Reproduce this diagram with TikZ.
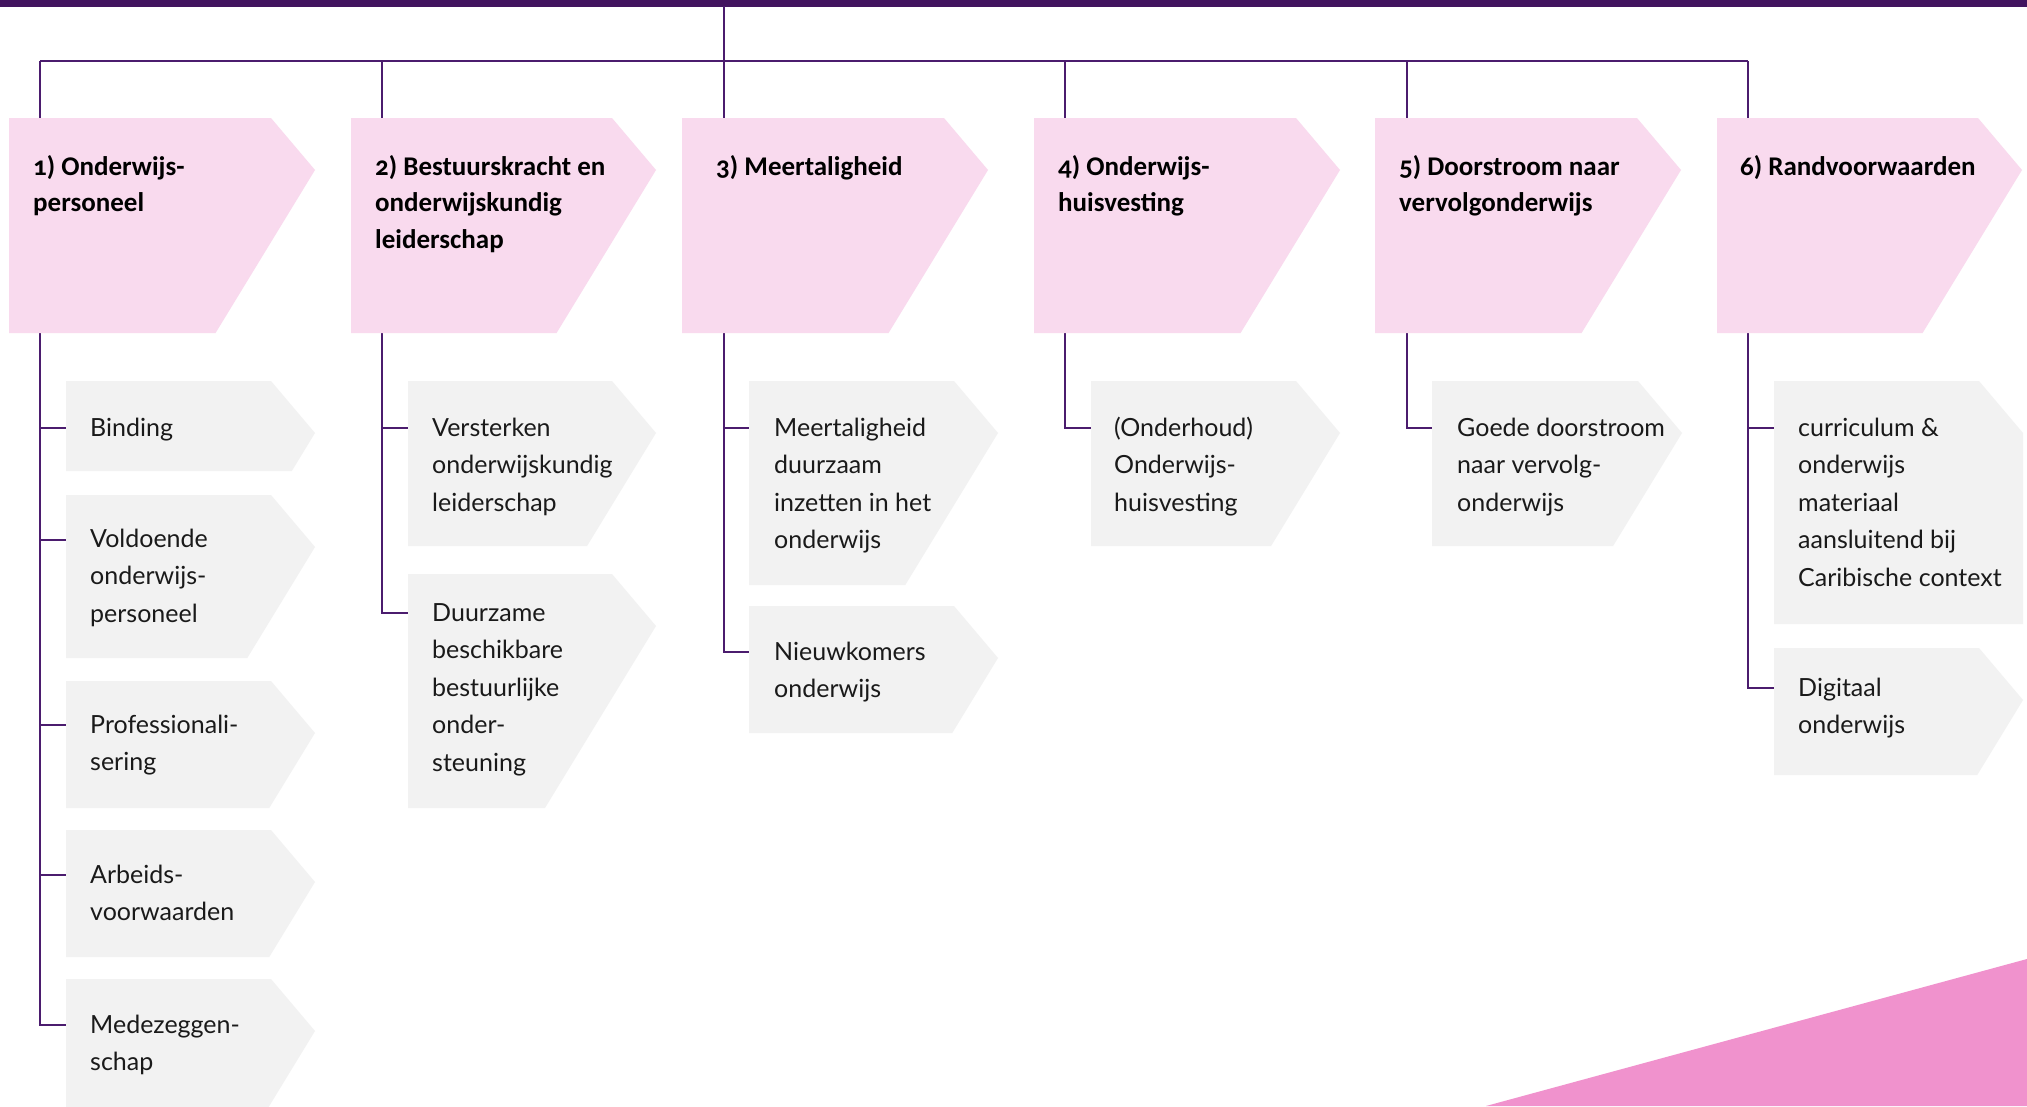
\documentclass[tikz,border=0pt]{standalone}
\usepackage{fontspec}
\setmainfont{Lato}
\newfontfamily\titlefont[Numbers=OldStyle]{Carlito}
\definecolor{barpurple}{HTML}{42145F}
\definecolor{linepurple}{HTML}{4B1C6E}
\definecolor{pinkbox}{HTML}{F9DAEE}
\definecolor{graybox}{HTML}{F2F2F2}
\definecolor{rose}{HTML}{F092CD}
\definecolor{txt}{HTML}{1A1A1A}
\newcommand\mlines[1]{\begin{tabular}[t]{@{}l@{}}#1\end{tabular}}
\newcommand\mychev[5]{%
  \pgfmathsetmacro\cA{#4-44}%
  \pgfmathsetmacro\cB{#2+52}%
  \pgfmathsetmacro\cC{#4-0.61*(#3-#2-52)}%
  \fill[#5] (#1,#2) -- (\cA,#2) -- (#4,\cB) -- (\cC,#3) -- (#1,#3) -- cycle;}
\tikzset{
  conn/.style={draw=linepurple, line width=2pt},
  titletext/.style={anchor=base west, inner sep=0pt, text=black,
    font=\titlefont\bfseries\fontsize{27}{36.7}\selectfont},
  itemtext/.style={anchor=base west, inner sep=0pt, text=txt,
    font=\fontsize{25}{37.5}\selectfont},
}
\begin{document}
\begin{tikzpicture}[x=1pt,y=-1pt]
\useasboundingbox (0,0) rectangle (2027,1106);
\clip (0,0) rectangle (2027,1106);
\fill[white] (0,0) rectangle (2027,1106);
% top bar
\fill[barpurple] (0,0) rectangle (2027,6.5);
% coordinates
\coordinate (top) at (724,6);
\coordinate (c1) at (40,61);
\coordinate (c2) at (382,61);
\coordinate (c3) at (724,61);
\coordinate (c4) at (1065,61);
\coordinate (c5) at (1407,61);
\coordinate (c6) at (1748,61);
% item attach points
\coordinate (g11) at (66,428);
\coordinate (g12) at (66,539.5);
\coordinate (g13) at (66,725);
\coordinate (g14) at (66,875);
\coordinate (g15) at (66,1025);
\coordinate (g21) at (408,428);
\coordinate (g22) at (408,613);
\coordinate (g31) at (749,428);
\coordinate (g32) at (749,652);
\coordinate (g41) at (1091,428);
\coordinate (g51) at (1432,428);
\coordinate (g61) at (1774,428);
\coordinate (g62) at (1774,688);
% connectors
\draw[conn] (top) -- (c3);
\draw[conn] (c1) -- (c6);
\draw[conn] (c1) |- (g15);
\draw[conn] (c1 |- g11) -- (g11);
\draw[conn] (c1 |- g12) -- (g12);
\draw[conn] (c1 |- g13) -- (g13);
\draw[conn] (c1 |- g14) -- (g14);
\draw[conn] (c2) |- (g22);
\draw[conn] (c2 |- g21) -- (g21);
\draw[conn] (c3) |- (g32);
\draw[conn] (c3 |- g31) -- (g31);
\draw[conn] (c4) |- (g41);
\draw[conn] (c5) |- (g51);
\draw[conn] (c6) |- (g62);
\draw[conn] (c6 |- g61) -- (g61);
% pink header boxes
\mychev{9}{118}{333}{315}{pinkbox}
\mychev{351}{118}{333}{656}{pinkbox}
\mychev{682}{118}{333}{988}{pinkbox}
\mychev{1034}{118}{333}{1340}{pinkbox}
\mychev{1375}{118}{333}{1681}{pinkbox}
\mychev{1717}{118}{333}{2022}{pinkbox}
% gray item boxes
\mychev{66}{381}{471}{315}{graybox}
\mychev{66}{495}{658}{315}{graybox}
\mychev{66}{681}{808}{315}{graybox}
\mychev{66}{830}{957}{315}{graybox}
\mychev{66}{979}{1140}{315}{graybox}
\mychev{408}{381}{546}{656}{graybox}
\mychev{408}{574}{808}{656}{graybox}
\mychev{749}{381}{585}{998}{graybox}
\mychev{749}{606}{733}{998}{graybox}
\mychev{1091}{381}{546}{1340}{graybox}
\mychev{1432}{381}{546}{1682}{graybox}
\fill[graybox] (1774,381) -- (1979,381) -- (2023,433) -- (2023,624) -- (1774,624) -- cycle;
\mychev{1774}{648}{775}{2023}{graybox}
% rose triangle
\fill[rose] (1486,1106) -- (2027,959) -- (2027,1106) -- cycle;
% titles
\node[titletext] (t1) at (33,175) {\mlines{1) Onderwijs-\\personeel}};
\node[titletext] (t2) at (375,175) {\mlines{2) Bestuurskracht en\\onderwijskundig\\leiderschap}};
\node[titletext] (t3) at (716,175) {\mlines{3) Meertaligheid}};
\node[titletext] (t4) at (1058,175) {\mlines{4) Onderwijs-\\huisvesting}};
\node[titletext] (t5) at (1399,175) {\mlines{5) Doorstroom naar\\vervolgonderwijs}};
\node[titletext] (t6) at (1740,175) {\mlines{6) Randvoorwaarden}};
% items
\node[itemtext] (i11) at (90,436) {\mlines{Binding}};
\node[itemtext] (i12) at (90,547) {\mlines{Voldoende\\onderwijs-\\personeel}};
\node[itemtext] (i13) at (90,733) {\mlines{Professionali-\\sering}};
\node[itemtext] (i14) at (90,883) {\mlines{Arbeids-\\voorwaarden}};
\node[itemtext] (i15) at (90,1033) {\mlines{Medezeggen-\\schap}};
\node[itemtext] (i21) at (432,436) {\mlines{Versterken\\onderwijskundig\\leiderschap}};
\node[itemtext] (i22) at (432,621) {\mlines{Duurzame\\beschikbare\\bestuurlijke\\onder-\\steuning}};
\node[itemtext] (i31) at (774,436) {\mlines{Meertaligheid\\duurzaam\\inzetten in het\\onderwijs}};
\node[itemtext] (i32) at (774,660) {\mlines{Nieuwkomers\\onderwijs}};
\node[itemtext] (i41) at (1114,436) {\mlines{(Onderhoud)\\Onderwijs-\\huisvesting}};
\node[itemtext] (i51) at (1457,436) {\mlines{Goede doorstroom\\naar vervolg-\\onderwijs}};
\node[itemtext] (i61) at (1798,436) {\mlines{curriculum \&\\onderwijs\\materiaal\\aansluitend bij\\Caribische context}};
\node[itemtext] (i62) at (1798,696) {\mlines{Digitaal\\onderwijs}};
\end{tikzpicture}
\end{document}
